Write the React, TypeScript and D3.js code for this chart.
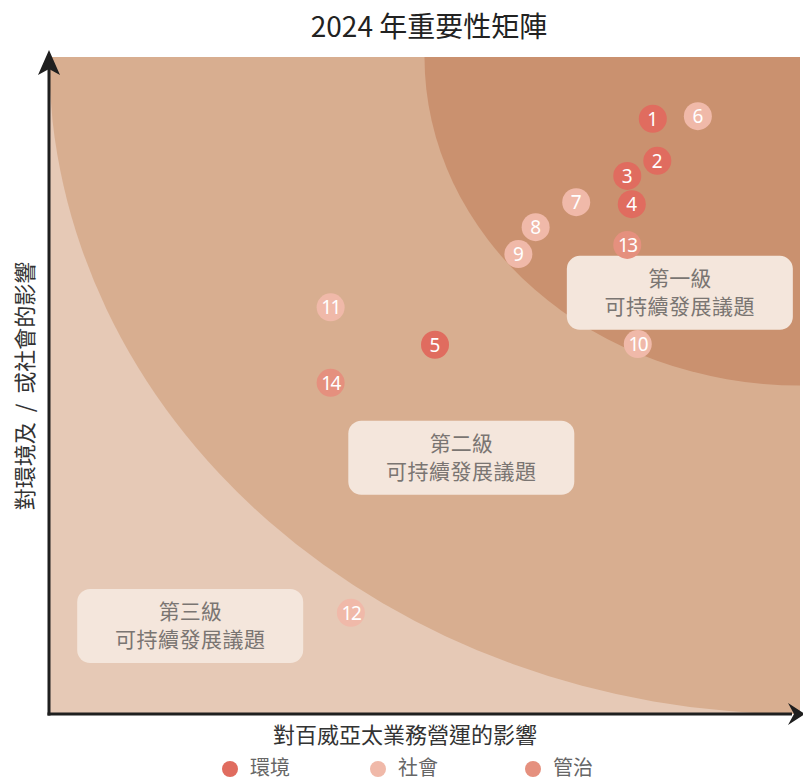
import { useEffect, useRef } from 'react';
import * as d3 from 'd3';

// issue data: id, category, business impact (x), environment/society impact (y)
const ISSUE_IDS = [1, 2, 3, 4, 5, 6, 7, 8, 9, 10, 11, 12, 13, 14];
const ISSUE_CATS = ['環境', '環境', '環境', '環境', '環境', '社會', '社會', '社會', '社會', '社會', '社會', '社會', '管治', '管治'];
const ISSUE_X = [8.04, 8.1, 7.7, 7.76, 5.14, 8.64, 7.02, 6.48, 6.25, 7.84, 3.75, 4.02, 7.7, 3.75];
const ISSUE_Y = [9.06, 8.42, 8.19, 7.76, 5.62, 9.1, 7.79, 7.41, 7.0, 5.63, 6.19, 1.54, 7.14, 5.04];

const CATEGORIES = ['環境', '社會', '管治'];
const CAT_COLORS = ['#e06c5f', '#f0b9a9', '#e5907e'];

const TIER_LABELS = ['第一級', '第二級', '第三級'];
const TIER_SUB = '可持續發展議題';
const TIER_X = [8.4, 5.49, 1.88];
const TIER_Y = [6.41, 3.9, 1.34];

const ZONE_RADII = [10, 5];
const ZONE_COLORS = ['#d8ae90', '#ca916f'];

const TITLE = '2024 年重要性矩陣';
const X_LABEL = '對百威亞太業務營運的影響';
const Y_LABEL = '對環境及 / 或社會的影響';

const FONT = '"Noto Sans CJK TC", "Noto Sans", sans-serif';

export default function App() {
  const svgRef = useRef<SVGSVGElement>(null);

  useEffect(() => {
    const svg = svgRef.current;
    if (!svg) return;
    const width = 803;
    const height = 780;
    const plot = { left: 49, right: 800, top: 57, bottom: 714 };

    const x = d3.scaleLinear().domain([0, 10]).range([plot.left, plot.right]);
    const y = d3.scaleLinear().domain([0, 10]).range([plot.bottom, plot.top]);

    const sel = d3.select(svg);
    sel.selectAll('*').remove();
    sel.attr('width', width).attr('height', height).attr('viewBox', `0 0 ${width} ${height}`);

    const defs = sel.append('defs');
    defs.append('clipPath').attr('id', 'plot-clip')
      .append('rect')
      .attr('x', plot.left).attr('y', plot.top)
      .attr('width', plot.right - plot.left).attr('height', plot.bottom - plot.top);

    const bg = sel.append('g').attr('clip-path', 'url(#plot-clip)');
    bg.append('rect')
      .attr('x', plot.left).attr('y', plot.top)
      .attr('width', plot.right - plot.left).attr('height', plot.bottom - plot.top)
      .attr('fill', '#e6c9b6');

    ZONE_RADII.forEach((r, i) => {
      bg.append('ellipse')
        .attr('cx', x(10)).attr('cy', y(10))
        .attr('rx', x(r) - x(0)).attr('ry', y(0) - y(r))
        .attr('fill', ZONE_COLORS[i]);
    });

    // tier boxes
    const boxW = 226;
    const boxH = 74;
    TIER_LABELS.forEach((label, i) => {
      const cx = x(TIER_X[i]);
      const cy = y(TIER_Y[i]);
      const g = sel.append('g');
      g.append('rect')
        .attr('x', cx - boxW / 2).attr('y', cy - boxH / 2)
        .attr('width', boxW).attr('height', boxH)
        .attr('rx', 13)
        .attr('fill', '#f4e6dc');
      g.append('text')
        .attr('x', cx).attr('y', cy - 14).attr('dy', '0.35em')
        .attr('text-anchor', 'middle')
        .attr('font-family', FONT).attr('font-size', 21)
        .attr('fill', '#7a7572')
        .text(label);
      g.append('text')
        .attr('x', cx).attr('y', cy + 14).attr('dy', '0.35em')
        .attr('text-anchor', 'middle')
        .attr('font-family', FONT).attr('font-size', 21)
        .attr('letter-spacing', 0.5)
        .attr('fill', '#7a7572')
        .text(TIER_SUB);
    });

    // points
    const colorOf = d3.scaleOrdinal<string, string>().domain(CATEGORIES).range(CAT_COLORS);
    const pts = sel.append('g');
    ISSUE_IDS.forEach((id, i) => {
      const px = x(ISSUE_X[i]);
      const py = y(ISSUE_Y[i]);
      pts.append('circle')
        .attr('cx', px).attr('cy', py).attr('r', 14)
        .attr('fill', colorOf(ISSUE_CATS[i]));
      pts.append('text')
        .attr('x', px).attr('y', py).attr('dy', '0.36em')
        .attr('text-anchor', 'middle')
        .attr('font-family', '"Noto Sans", sans-serif')
        .attr('font-size', 19)
        .attr('letter-spacing', id > 9 ? -1.5 : 0)
        .attr('fill', '#ffffff')
        .text(id);
    });

    // axes
    const axisColor = '#1f1f1f';
    sel.append('line')
      .attr('x1', plot.left).attr('x2', plot.left)
      .attr('y1', plot.bottom + 1.5).attr('y2', 62)
      .attr('stroke', axisColor).attr('stroke-width', 3);
    sel.append('line')
      .attr('x1', plot.left - 1.5).attr('x2', 792)
      .attr('y1', plot.bottom).attr('y2', plot.bottom)
      .attr('stroke', axisColor).attr('stroke-width', 3);
    // arrowheads
    sel.append('path')
      .attr('d', `M${plot.left},50 L${plot.left + 11},75 L${plot.left},69 L${plot.left - 11},75 Z`)
      .attr('fill', axisColor);
    sel.append('path')
      .attr('d', `M805,${plot.bottom} L788,${plot.bottom - 11} L794,${plot.bottom} L788,${plot.bottom + 11} Z`)
      .attr('fill', axisColor);

    // title + axis labels
    sel.append('text')
      .attr('x', 429).attr('y', 27).attr('dy', '0.35em')
      .attr('text-anchor', 'middle')
      .attr('font-family', FONT).attr('font-size', 28)
      .attr('fill', '#222')
      .text(TITLE);
    sel.append('text')
      .attr('x', 405).attr('y', 735).attr('dy', '0.35em')
      .attr('text-anchor', 'middle')
      .attr('font-family', FONT).attr('font-size', 22)
      .attr('fill', '#333')
      .text(X_LABEL);
    sel.append('text')
      .attr('transform', `translate(25,386) rotate(-90)`)
      .attr('dy', '0.35em')
      .attr('text-anchor', 'middle')
      .attr('font-family', FONT).attr('font-size', 22)
      .attr('fill', '#333')
      .attr('xml:space', 'preserve')
      .text(Y_LABEL.replace(' / ', '  /  '));

    // legend
    const legendX = [230, 378, 533];
    CATEGORIES.forEach((cat, i) => {
      sel.append('circle')
        .attr('cx', legendX[i]).attr('cy', 769).attr('r', 8)
        .attr('fill', CAT_COLORS[i]);
      sel.append('text')
        .attr('x', legendX[i] + 20).attr('y', 768).attr('dy', '0.35em')
        .attr('font-family', FONT).attr('font-size', 20)
        .attr('fill', '#666')
        .text(cat);
    });
  }, []);

  return (
    <svg
      ref={svgRef}
      style={{ position: 'absolute', left: 0, top: 0, display: 'block', background: '#fff' }}
    />
  );
}
